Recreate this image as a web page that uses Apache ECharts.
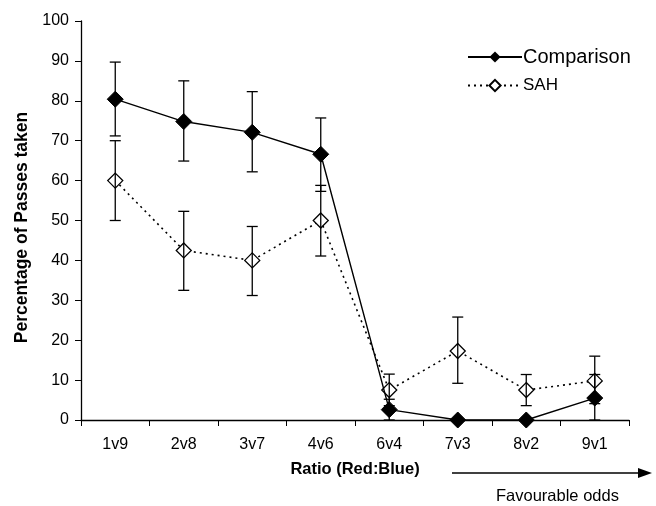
<!DOCTYPE html>
<html>
<head>
	<meta charset="utf-8">
	<title>Percentage of Passes taken</title>
	<script src="https://cdn.jsdelivr.net/npm/echarts@6/dist/echarts.min.js"></script>
	<style type="text/css">
		html, body { margin: 0; padding: 0; background: #ffffff; }
		#chartContainer { width: 656px; height: 506px; }
	</style>
</head>
<body>
	<div id="chartContainer"></div>
	<script type="text/javascript">
		var categories = ['1v9', '2v8', '3v7', '4v6', '6v4', '7v3', '8v2', '9v1'];
		var comparison = [80.4, 74.8, 72.1, 66.6, 2.6, 0, 0, 5.5];
		var comparisonLow = [71.2, 64.9, 62.2, 57.3, 0, 0, 0, 0];
		var comparisonHigh = [89.7, 85.0, 82.3, 75.7, 5.2, 0, 0, 11.4];
		var sah = [60.0, 42.5, 40.0, 50.0, 7.5, 17.3, 7.5, 9.8];
		var sahLow = [50.0, 32.5, 31.2, 41.1, 3.6, 9.2, 3.6, 4.1];
		var sahHigh = [70.0, 52.3, 48.5, 58.8, 11.5, 25.8, 11.4, 16.0];

		function errData(low, high) {
			var out = [];
			for (var i = 0; i < low.length; i++) {
				if (high[i] > low[i]) out.push([i, low[i], high[i]]);
			}
			return out;
		}

		function renderError(params, api) {
			var lo = api.coord([api.value(0), api.value(1)]);
			var hi = api.coord([api.value(0), api.value(2)]);
			var cap = 5.5;
			var st = { stroke: '#000', lineWidth: 1.3 };
			return {
				type: 'group',
				children: [
					{ type: 'line', shape: { x1: lo[0], y1: lo[1], x2: hi[0], y2: hi[1] }, style: st },
					{ type: 'line', shape: { x1: lo[0] - cap, y1: lo[1], x2: lo[0] + cap, y2: lo[1] }, style: st },
					{ type: 'line', shape: { x1: hi[0] - cap, y1: hi[1], x2: hi[0] + cap, y2: hi[1] }, style: st }
				]
			};
		}

		var myChart = echarts.init(document.getElementById('chartContainer'));
		var option = {
			backgroundColor: '#ffffff',
			animation: false,
			textStyle: { fontFamily: 'Liberation Sans', color: '#000' },
			grid: { left: 81, right: 27, top: 21, bottom: 86 },
			legend: {
				orient: 'vertical',
				left: 462,
				top: 42,
				itemWidth: 54,
				itemHeight: 14,
				itemGap: 10,
				data: [
					{ name: 'Comparison', textStyle: { fontSize: 20 } },
					{ name: 'SAH', textStyle: { fontSize: 17 } }
				],
				textStyle: { color: '#000', fontFamily: 'Liberation Sans', padding: [0, 0, 0, -4] }
			},
			xAxis: {
				type: 'category',
				data: categories,
				boundaryGap: true,
				name: 'Ratio (Red:Blue)',
				nameLocation: 'middle',
				nameGap: 41,
				nameTextStyle: { fontSize: 16.5, fontWeight: 'bold', color: '#000' },
				axisLine: { lineStyle: { color: '#000', width: 1.3 } },
				axisTick: { show: true, length: 6, inside: false, lineStyle: { color: '#000' } },
				axisLabel: { fontSize: 16, color: '#000', margin: 17 },
				splitLine: { show: false }
			},
			yAxis: {
				type: 'value',
				min: 0,
				max: 100,
				interval: 10,
				name: 'Percentage of Passes taken',
				nameLocation: 'middle',
				nameGap: 47,
				nameTextStyle: { fontSize: 17.5, fontWeight: 'bold', color: '#000', padding: [0, 14, 0, 0] },
				axisLine: { show: true, lineStyle: { color: '#000', width: 1.3 } },
				axisTick: { show: true, length: 6, lineStyle: { color: '#000' } },
				axisLabel: { fontSize: 16, color: '#000', margin: 12 },
				splitLine: { show: false }
			},
			series: [
				{
					name: 'Comparison',
					type: 'line',
					data: comparison,
					symbol: 'diamond',
					symbolSize: 16,
					lineStyle: { color: '#000', width: 1.4, type: 'solid' },
					itemStyle: { color: '#000', borderColor: '#000' },
					z: 3
				},
				{
					name: 'SAH',
					type: 'line',
					data: sah,
					symbol: 'diamond',
					symbolSize: 15,
					lineStyle: { color: '#000', width: 1.6, type: [2, 4] },
					itemStyle: { color: '#fff', borderColor: '#000', borderWidth: 1.3 },
					z: 2
				},
				{
					type: 'custom',
					name: 'errComparison',
					data: errData(comparisonLow, comparisonHigh),
					renderItem: renderError,
					encode: { x: 0, y: [1, 2] },
					z: 4
				},
				{
					type: 'custom',
					name: 'errSAH',
					data: errData(sahLow, sahHigh),
					renderItem: renderError,
					encode: { x: 0, y: [1, 2] },
					z: 4
				}
			],
			graphic: [
				{
					type: 'line',
					shape: { x1: 452, y1: 473, x2: 642, y2: 473 },
					style: { stroke: '#000', lineWidth: 1.3 }
				},
				{
					type: 'polygon',
					shape: { points: [[652, 473], [638, 468], [638, 478]] },
					style: { fill: '#000' }
				},
				{
					type: 'text',
					left: 496,
					top: 488,
					style: { text: 'Favourable odds', fontSize: 16.5, fontFamily: 'Liberation Sans', fill: '#000' }
				}
			]
		};
		myChart.setOption(option);
	</script>
</body>
</html>
